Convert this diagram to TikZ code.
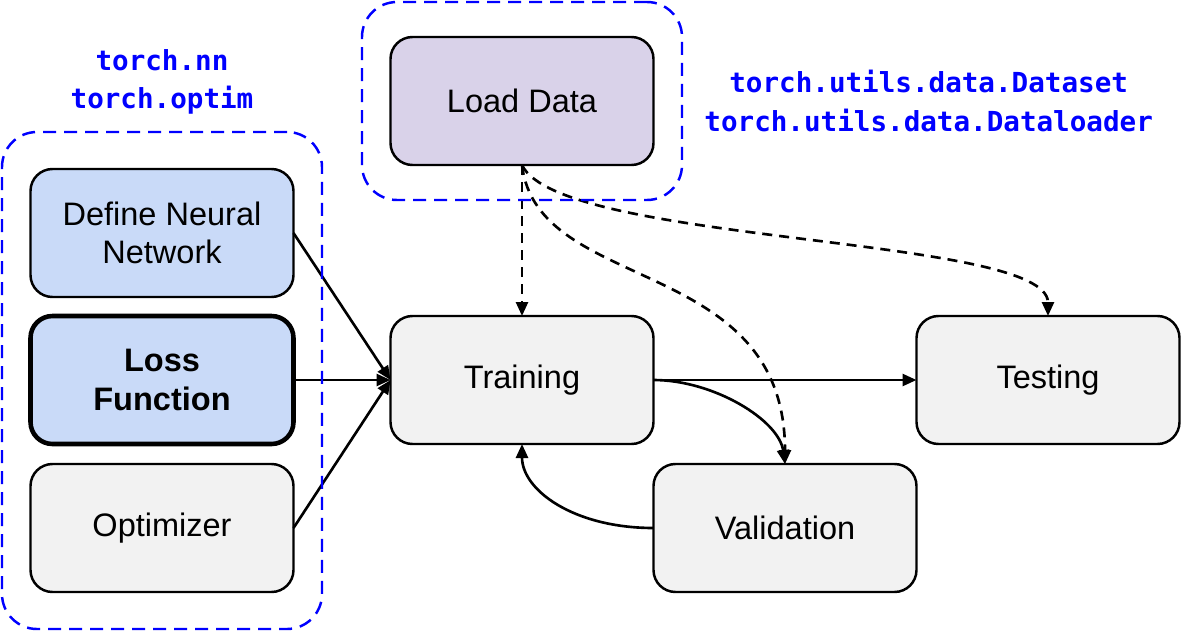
\documentclass[tikz,border=0pt]{standalone}
\usepackage{fontspec}
\setmainfont{Liberation Sans}
\newfontfamily\apifont{DejaVu Sans Mono}
\usetikzlibrary{arrows.meta, positioning, fit}
\definecolor{nnblue}{HTML}{C9DAF8}
\definecolor{datapurple}{HTML}{D9D2E9}
\definecolor{stepgray}{HTML}{F2F2F2}

\begin{document}
\begin{tikzpicture}[
  box/.style={draw, line width=1.4pt, outer sep=0pt, rounded corners=0.44cm, minimum width=5.26cm, minimum height=2.56cm, align=center, fill=stepgray, font=\fontsize{18.5}{22}\selectfont},
  group/.style={draw=blue, line width=1.4pt, dash pattern=on 0.26cm off 0.16cm, rounded corners=0.7cm, inner xsep=0.57cm, inner ysep=0.74cm},
  api/.style={text=blue, align=center, font=\apifont\bfseries\fontsize{15.7}{22}\selectfont},
  arr/.style={-{Triangle[length=0.28cm, width=0.24cm]}, line width=1.5pt},
  darr/.style={arr, dash pattern=on 0.2cm off 0.14cm}
]
\useasboundingbox (0,0) rectangle (23.64,-12.7);

\node[box, fill=nnblue, line width=2.6pt, font=\fontsize{18.5}{22}\selectfont\bfseries] (loss) at (3.24,-7.6) {Loss\\Function};
\node[box, fill=nnblue, above=0.38cm of loss] (define) {Define Neural\\Network};
\node[box, below=0.4cm of loss] (optim) {Optimizer};
\node[box, right=1.94cm of loss] (train) {Training};
\node[box, right=5.26cm of train] (test) {Testing};
\node[box, fill=datapurple, above=3.02cm of train] (load) {Load Data};
\node[box, anchor=west] (valid) at (train.east |- optim) {Validation};

\draw[arr] (define.east) -- (train.west);
\draw[arr] (loss.east) -- (train.west);
\draw[arr] (optim.east) -- (train.west);
\draw[arr] (train.east) -- (test.west);
\draw[arr] (train.east) .. controls +(1.2,0) and +(-0.12,0.88) .. (valid.north);
\draw[arr] (valid.west) .. controls +(-1.6,0) and +(0,-0.92) .. (train.south);

\draw[darr] (load.south) -- (train.north);
\draw[darr] (load.south) .. controls +(0.3,-2.6) and +(0,4.2) .. (valid.north);
\draw[darr] (load.south) .. controls +(0.76,-1.6) and +(0,1.62) .. (test.north);

\node[group, fit=(define) (optim)] (nngrp) {};
\node[group, fit=(load), inner ysep=0.7cm] (datagrp) {};

\node[api, above=0.2cm of nngrp] (nnapi) {torch.nn\\torch.optim};
\node[api, right=0.3cm of datagrp] (dataapi) {torch.utils.data.Dataset\\torch.utils.data.Dataloader};
\end{tikzpicture}
\end{document}
